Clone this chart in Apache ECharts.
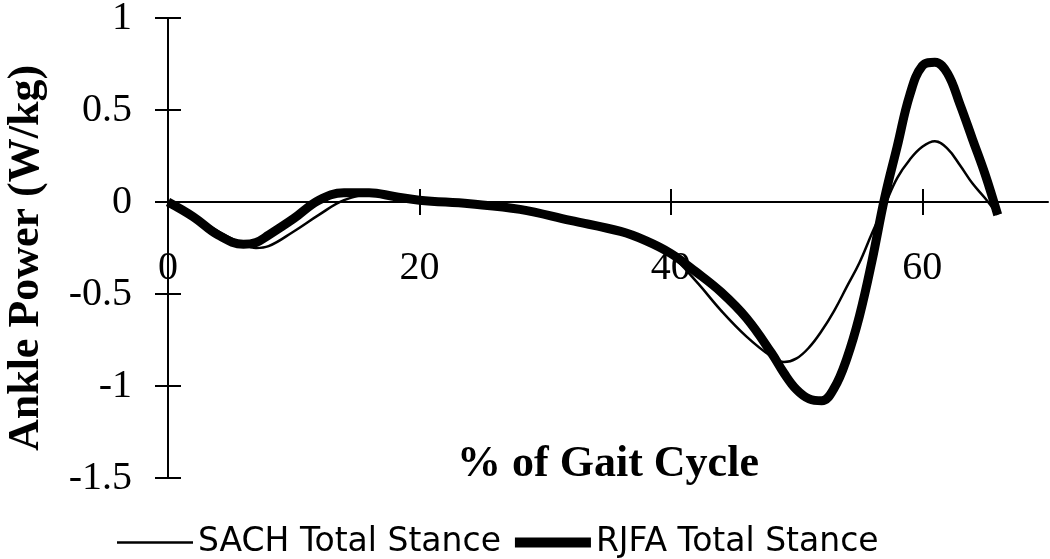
<!DOCTYPE html>
<html>
<head>
<meta charset="utf-8">
<script src="https://cdn.jsdelivr.net/npm/echarts@6/dist/echarts.min.js"></script>
<style>
html,body{margin:0;padding:0;background:#fff;}
#chart{width:1050px;height:559px;}
</style>
</head>
<body>
<div id="chart"></div>
<script>
const gaitPct = [0,2,4,6,7,8,10,12,14,16,18,20,24,28,32,36,38,40,42,44,46,48,49,50,51,52,53,54,55,56,57,58,59,60,61,62,63,64,65,66];
const sachPower = [0,-0.07,-0.16,-0.23,-0.25,-0.24,-0.16,-0.07,0.01,0.04,0.03,0.01,-0.01,-0.04,-0.10,-0.16,-0.21,-0.29,-0.43,-0.59,-0.73,-0.84,-0.87,-0.85,-0.79,-0.70,-0.59,-0.46,-0.33,-0.17,-0.02,0.13,0.23,0.30,0.33,0.29,0.20,0.10,0.02,-0.07];
const rjfaPower = [0,-0.08,-0.18,-0.23,-0.22,-0.18,-0.09,0.01,0.05,0.05,0.03,0.01,-0.01,-0.04,-0.10,-0.16,-0.21,-0.28,-0.38,-0.49,-0.63,-0.82,-0.93,-1.02,-1.07,-1.08,-1.01,-0.85,-0.62,-0.32,0.02,0.30,0.58,0.74,0.76,0.70,0.53,0.34,0.15,-0.07];
const xTicks = [0,20,40,60];
const seriesNames = ['SACH Total Stance','RJFA Total Stance'];

const pair = (ys) => gaitPct.map((x,i) => [x, ys[i]]);

const serif = 'Liberation Serif';
const chart = echarts.init(document.getElementById('chart'), null, {renderer:'canvas'});
chart.setOption({
  backgroundColor:'#fff',
  animation:false,
  grid:{left:168,right:2,top:18,bottom:81,containLabel:false,outerBoundsMode:'none'},
  legend:{
    left:112, top:521,
    itemWidth:76, itemHeight:10, itemGap:14,
    textStyle:{fontFamily:'DejaVu Sans',fontSize:33,color:'#000'},
    data:[
      {name:seriesNames[0], icon:'path://M0,0L0,0M0,3.8L76,3.8L76,6.2L0,6.2ZM76,10L76,10'},
      {name:seriesNames[1], icon:'rect'}
    ]
  },
  xAxis:[{
    type:'value', min:0, max:70,
    axisLine:{onZero:true,lineStyle:{color:'#000',width:2}},
    axisTick:{show:true,length:13,customValues:xTicks,lineStyle:{color:'#000',width:2}},
    axisLabel:{customValues:xTicks,margin:-230,fontFamily:serif,fontSize:40,color:'#000'},
    splitLine:{show:false},
    name:'% of Gait Cycle', nameLocation:'middle', nameGap:-35,
    nameTextStyle:{fontFamily:serif,fontWeight:'bold',fontSize:44,color:'#000'}
  },{
    type:'value', min:0, max:70, position:'bottom',
    axisLine:{show:false,onZero:true,onZeroAxisIndex:0},
    axisTick:{show:true,inside:true,length:13,customValues:xTicks,lineStyle:{color:'#000',width:2}},
    axisLabel:{show:false}, splitLine:{show:false}
  }],
  yAxis:[{
    type:'value', min:-1.5, max:1, interval:0.5,
    axisLine:{show:true,lineStyle:{color:'#000',width:2}},
    axisTick:{show:true,length:13,lineStyle:{color:'#000',width:2}},
    axisLabel:{margin:36,fontFamily:serif,fontSize:40,color:'#000'},
    splitLine:{show:false},
    name:'Ankle Power (W/kg)', nameLocation:'middle', nameGap:119,
    nameTextStyle:{fontFamily:serif,fontWeight:'bold',fontSize:44,color:'#000',padding:[0,20,0,0]}
  },{
    type:'value', min:-1.5, max:1, interval:0.5, position:'left',
    axisLine:{show:false},
    axisTick:{show:true,inside:true,length:13,lineStyle:{color:'#000',width:2}},
    axisLabel:{show:false}, splitLine:{show:false}
  }],
  series:[{
    name:seriesNames[0], type:'line', xAxisIndex:0, yAxisIndex:0,
    data:pair(sachPower), smooth:0.4, symbol:'none',
    lineStyle:{color:'#000',width:2.5}, itemStyle:{color:'#000'}, z:2
  },{
    name:seriesNames[1], type:'line', xAxisIndex:0, yAxisIndex:0,
    data:pair(rjfaPower), smooth:0.4, symbol:'none',
    lineStyle:{color:'#000',width:9}, itemStyle:{color:'#000'}, z:3
  }]
});
</script>
</body>
</html>
